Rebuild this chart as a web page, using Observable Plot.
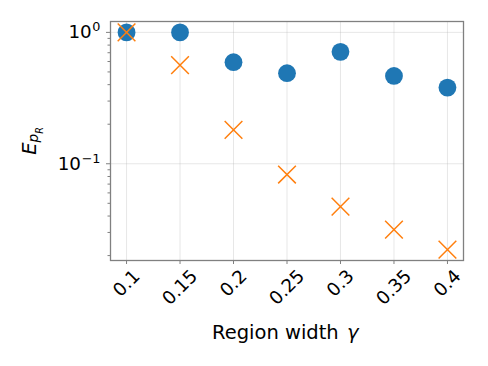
<!DOCTYPE html>
<html><head><meta charset="utf-8">
<script src="https://cdn.jsdelivr.net/npm/d3@7"></script>
<script src="https://cdn.jsdelivr.net/npm/@observablehq/plot@0.6"></script>
<style>body{margin:0;background:#fff}</style>
</head><body><div id="chart"></div>
<script>
// ---- data ----
const widths = [0.1, 0.15, 0.2, 0.25, 0.3, 0.35, 0.4];
const xTickLabels = ["0.1", "0.15", "0.2", "0.25", "0.3", "0.35", "0.4"];
const seriesCircle = [1.0, 1.0, 0.593, 0.489, 0.711, 0.466, 0.38];
const seriesCross = [1.0, 0.563, 0.181, 0.0828, 0.0472, 0.0315, 0.0222];
const yMajorTicks = [1, 0.1];
const yMinorTicks = [0.02, 0.03, 0.04, 0.05, 0.06, 0.07, 0.08, 0.09, 0.2, 0.3, 0.4, 0.5, 0.6, 0.7, 0.8, 0.9];

const circleData = widths.map((w, i) => ({x: w, y: seriesCircle[i]}));
const crossData = widths.map((w, i) => ({x: w, y: seriesCross[i]}));

const fs = 18.3;
const ctx = document.createElement("canvas").getContext("2d");
ctx.font = `${fs}px "DejaVu Sans"`;
const H = fs * 1.164;
const xLabelMarks = widths.map((w, i) => {
  const tw = ctx.measureText(xTickLabels[i]).width;
  const bh = (tw + H) * Math.SQRT1_2;
  return Plot.text([w], {
    x: d => d, frameAnchor: "bottom", dy: 5 + bh / 2,
    text: () => xTickLabels[i], rotate: -45, textAnchor: "middle",
    lineAnchor: "middle", fontSize: fs, fill: "black"
  });
});

const spine = "#808080";
const svg = Plot.plot({
  width: 488, height: 366,
  marginLeft: 110, marginRight: 25, marginTop: 21, marginBottom: 106,
  style: {fontFamily: "DejaVu Sans", fontSize: fs + "px", background: "white", color: "black"},
  x: {domain: [0.085, 0.415]},
  y: {type: "log", domain: [0.01835, 1.21]},
  marks: [
    Plot.gridX(widths, {stroke: "#b0b0b0", strokeOpacity: 0.3, strokeWidth: 1}),
    Plot.gridY(yMajorTicks, {stroke: "#b0b0b0", strokeOpacity: 0.3, strokeWidth: 1}),
    Plot.axisX({ticks: widths, tickSize: 4, tickFormat: () => "", stroke: spine, label: null}),
    Plot.axisY({ticks: yMinorTicks, tickSize: 2.5, tickFormat: () => "", stroke: spine, label: null}),
    Plot.axisY({ticks: yMajorTicks, tickSize: 4, tickPadding: 6, fontSize: fs,
      tickFormat: d => "10^" + Math.round(Math.log10(d)), stroke: spine, fill: "black", label: null}),
    ...xLabelMarks,
    Plot.dot(circleData, {x: "x", y: "y", r: 8.9, fill: "#1f77b4", stroke: "none", symbol: "circle"}),
    Plot.dot(crossData, {x: "x", y: "y", r: 8.1, symbol: "times", stroke: "#ff7f0e", strokeWidth: 1.5}),
    Plot.frame({stroke: spine, strokeWidth: 1.3})
  ]
});
document.getElementById("chart").append(svg);

const S = d3.select(svg);
// superscript tick labels
S.selectAll('g[aria-label="y-axis tick label"] text').each(function() {
  const t = this.textContent;
  if (!t.startsWith("10^")) return;
  const exp = t.slice(3).replace("-", "\u2212");
  const sel = d3.select(this);
  sel.text("");
  sel.append("tspan").text("10");
  sel.append("tspan").attr("font-size", 12.8).attr("dx", 0.7).attr("dy", -7).text(exp);
});
// axis labels
const xl = S.append("text").attr("x", 212).attr("y", 338.5)
  .attr("text-anchor", "start").attr("font-size", 19.5).attr("fill", "black")
  .attr("font-family", "DejaVu Sans");
xl.append("tspan").text("Region width\u00a0");
xl.append("tspan").attr("font-style", "italic").attr("dx", 2).text("\u03b3");
const yl = S.append("text").attr("transform", "translate(36,141) rotate(-90)")
  .attr("text-anchor", "middle").attr("font-size", 19.5).attr("fill", "black")
  .attr("font-style", "italic").attr("font-family", "DejaVu Sans");
yl.append("tspan").text("E");
yl.append("tspan").attr("font-size", 13.7).attr("dy", 1.5).text("p");
yl.append("tspan").attr("font-size", 9.6).attr("dy", 5.5).text("R");
</script>
</body></html>
